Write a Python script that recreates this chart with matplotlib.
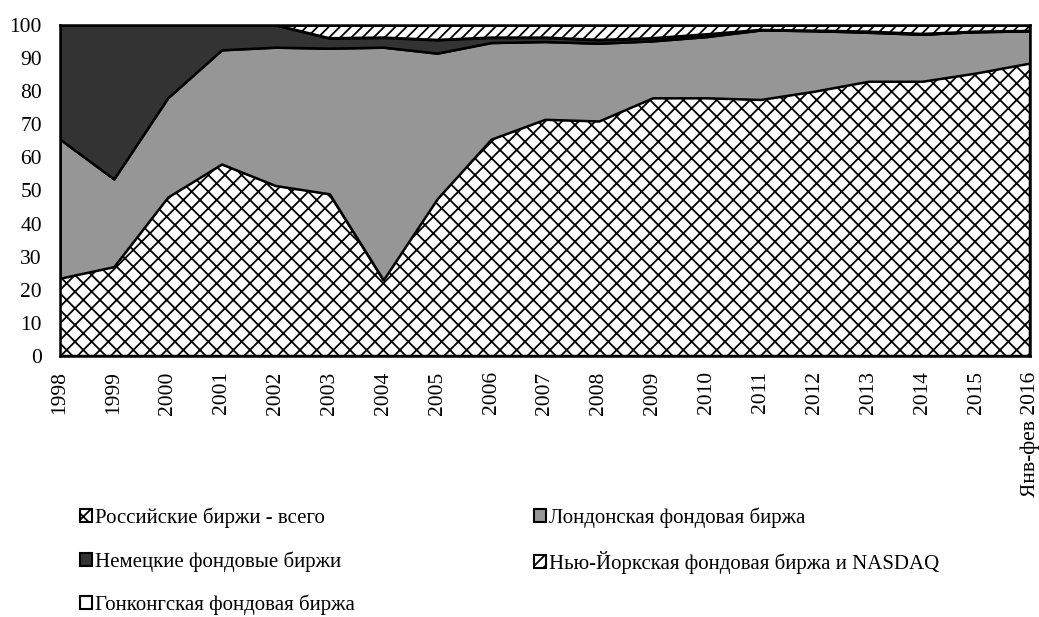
#!/usr/bin/env python3
"""
Stacked area chart: shares of trading venues (%)
"""
import numpy as np
import matplotlib.pyplot as plt
import matplotlib.patches as patches

plt.rcParams['font.family'] = ['Liberation Serif', 'DejaVu Serif']
plt.rcParams['hatch.linewidth'] = 1.3

years = ['1998', '1999', '2000', '2001', '2002', '2003', '2004', '2005', '2006',
         '2007', '2008', '2009', '2010', '2011', '2012', '2013', '2014', '2015',
         'Янв-фев 2016']

russia = [23.5, 27, 48, 58, 51.5, 49, 23, 47.5, 65.5, 71.5, 71, 78, 78, 77.5,
          80, 83, 83, 85.5, 88.5]
london = [42, 26.5, 30, 34.5, 41.8, 44, 70.3, 44, 29.2, 23.5, 23.5, 17.2, 18.5,
          21, 18.3, 14.8, 14.2, 12.5, 9.7]
germany = [34.5, 46.5, 22, 7.5, 6.7, 3, 2.9, 4, 1.5, 1.2, 1, 0.8, 0.7, 0, 0,
           0.2, 0.1, 0, 0]
nyse_nasdaq = [0, 0, 0, 0, 0, 4, 3.8, 4.5, 3.8, 3.8, 4.5, 4, 2.8, 1.5, 1.7, 2,
               2.7, 2, 1.8]
hongkong = [0] * 19

labels = ['Российские биржи - всего', 'Лондонская фондовая биржа',
          'Немецкие фондовые биржи', 'Нью-Йоркская фондовая биржа и NASDAQ',
          'Гонконгская фондовая биржа']
colors = ['white', '#969696', '#333333', 'white', 'white']
hatches = ['xx', None, None, '///', None]

fig = plt.figure(figsize=(10.39, 6.17), dpi=100)
ax = fig.add_axes([0.0577, 0.423, 0.9336, 0.5365])

x = np.arange(len(years))
polys = ax.stackplot(x, russia, london, germany, nyse_nasdaq, hongkong,
                     colors=colors, edgecolor='black', linewidth=1.8)
for p, h in zip(polys, hatches):
    if h:
        p.set_hatch(h)

ax.set_xlim(0, len(years) - 1)
ax.set_ylim(0, 100)
ax.set_yticks(range(0, 101, 10))
ax.set_xticks(x)
ax.set_xticklabels(years, rotation=90, va='top', ha='center')
ax.tick_params(length=0, labelsize=15.5)
ax.tick_params(axis='x', pad=11)
ax.tick_params(axis='y', pad=13)
for s in ax.spines.values():
    s.set_linewidth(1.8)

# legend in two columns, filled row by row
handles = [patches.Patch(facecolor=c, edgecolor='black', hatch=h, linewidth=1.5)
           for c, h in zip(colors, hatches)]
order = [0, 2, 4, 1, 3]
fig.legend([handles[i] for i in order], [labels[i] for i in order],
           ncol=2, loc='upper left', bbox_to_anchor=(0.077, 0.177),
           frameon=False, fontsize=15, handlelength=0.58, handleheight=0.58,
           handletextpad=0.15, columnspacing=8.6, labelspacing=1.1,
           borderaxespad=0, borderpad=0)

fig.savefig('out.png', dpi=100, facecolor='white')
